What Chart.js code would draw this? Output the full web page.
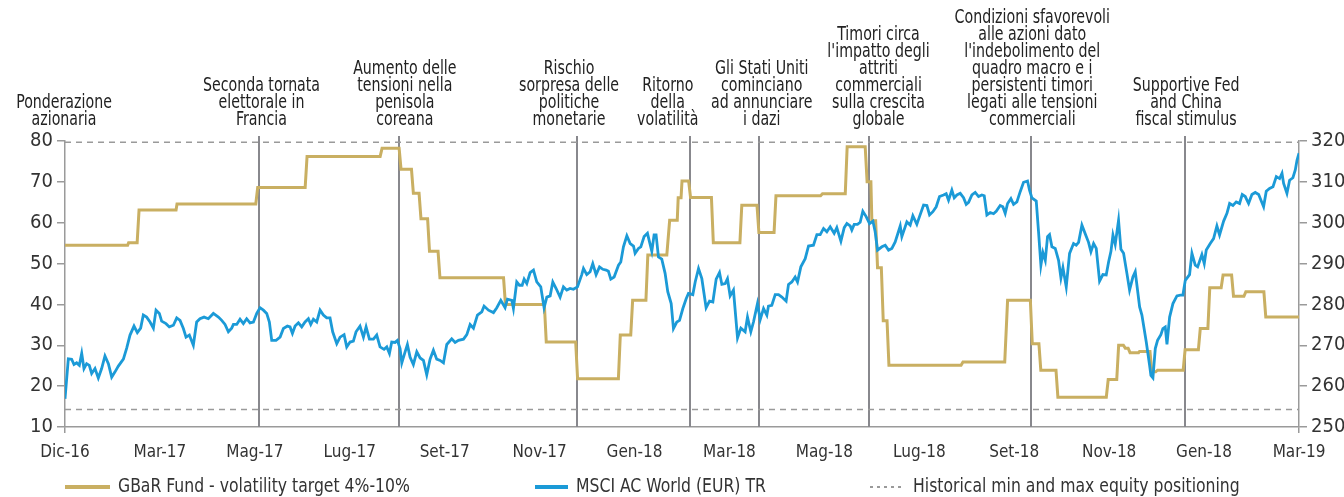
<!DOCTYPE html>
<html>
<head>
<meta charset="utf-8">
<script src="https://cdn.jsdelivr.net/npm/chart.js@4.4.1/dist/chart.umd.min.js"></script>
<style>
  html, body { margin: 0; padding: 0; background: #fff; }
  #wrap { width: 1344px; height: 497px; position: relative; }
</style>
</head>
<body>
<div id="wrap"><canvas id="chart" width="1344" height="497"></canvas></div>
<script>
// x is measured in label steps: 0 = Dic-16 ... 13 = Mar-19
const xLabels = ['Dic-16','Mar-17','Mag-17','Lug-17','Set-17','Nov-17','Gen-18','Mar-18','Mag-18','Lug-18','Set-18','Nov-18','Gen-18','Mar-19'];

// GBaR Fund equity weight (left axis, %)
const fundX = [0,0.66,0.67,0.76,0.78,1.17,1.18,2.01,2.03,2.53,2.55,3.32,3.34,3.52,3.54,3.65,3.67,3.73,3.75,3.82,3.84,3.93,3.95,4.62,4.64,5.05,5.07,5.38,5.40,5.83,5.85,5.96,5.98,6.12,6.14,6.34,6.37,6.45,6.46,6.49,6.50,6.57,6.59,6.81,6.83,7.11,7.13,7.29,7.31,7.47,7.49,7.96,7.98,8.22,8.24,8.43,8.45,8.49,8.50,8.54,8.56,8.60,8.62,8.66,8.68,9.44,9.46,9.90,9.93,10.17,10.19,10.26,10.28,10.44,10.46,10.97,10.99,11.08,11.10,11.15,11.17,11.20,11.22,11.31,11.32,11.43,11.45,11.49,11.51,11.78,11.80,11.94,11.96,12.04,12.06,12.18,12.20,12.29,12.31,12.42,12.44,12.63,12.65,13.0];
const fundY = [54.5,54.5,55.1,55.1,63.1,63.1,64.6,64.6,68.6,68.6,76.2,76.2,78.2,78.2,73.1,73.1,67.2,67.2,61.0,61.0,53.0,53.0,46.5,46.5,40.0,40.0,30.8,30.8,21.8,21.8,32.5,32.5,41.0,41.0,52.1,52.1,60.6,60.6,66.1,66.1,70.2,70.2,66.2,66.2,55.1,55.1,64.3,64.3,57.6,57.6,66.6,66.6,67.1,67.1,78.6,78.6,70.0,70.0,60.5,60.5,49.0,49.0,36.0,36.0,25.1,25.1,25.9,25.9,41.0,41.0,30.4,30.4,23.9,23.9,17.3,17.3,21.6,21.6,30.0,30.0,29.3,29.3,28.2,28.2,28.5,28.5,23.5,23.5,23.9,23.9,28.9,28.9,34.1,34.1,44.1,44.1,47.2,47.2,42.0,42.0,43.1,43.1,36.9,36.9];

// MSCI AC World (EUR) TR (right axis)
const msciX = [0,0.035,0.07,0.095,0.123,0.151,0.176,0.2,0.228,0.256,0.281,0.316,0.351,0.386,0.421,0.457,0.492,0.527,0.562,0.615,0.65,0.685,0.727,0.762,0.797,0.825,0.86,0.896,0.931,0.959,0.994,1.018,1.064,1.099,1.142,1.177,1.212,1.247,1.275,1.31,1.352,1.387,1.422,1.465,1.51,1.563,1.616,1.651,1.686,1.721,1.756,1.774,1.809,1.844,1.879,1.914,1.949,1.985,2.02,2.055,2.09,2.125,2.153,2.178,2.223,2.266,2.301,2.343,2.371,2.396,2.424,2.459,2.494,2.529,2.564,2.589,2.617,2.652,2.687,2.722,2.757,2.792,2.82,2.863,2.898,2.94,2.968,3.003,3.038,3.066,3.108,3.144,3.172,3.207,3.249,3.284,3.319,
  3.361,3.39,3.418,3.442,3.477,3.502,3.53,3.548,3.583,3.607,3.635,3.67,3.706,3.741,3.776,3.811,3.846,3.881,3.916,3.952,3.987,4.022,4.074,4.11,4.145,4.198,4.233,4.268,4.303,4.345,4.391,4.415,4.461,4.514,4.549,4.591,4.636,4.661,4.707,4.724,4.759,4.787,4.816,4.837,4.865,4.9,4.935,4.97,5.012,5.047,5.076,5.111,5.139,5.174,5.216,5.251,5.286,5.321,5.356,5.399,5.444,5.462,5.497,5.532,5.56,5.595,5.631,5.666,5.701,5.725,5.75,5.785,5.831,5.855,5.883,5.919,5.954,5.989,6.006,6.041,6.066,6.101,6.136,6.182,6.206,6.227,6.252,6.287,6.322,6.35,6.386,6.41,6.445,6.474,6.509,6.544,6.568,
  6.614,6.639,6.674,6.709,6.754,6.79,6.825,6.86,6.895,6.92,6.955,6.979,7.007,7.042,7.085,7.12,7.165,7.19,7.225,7.253,7.295,7.324,7.359,7.394,7.411,7.446,7.482,7.517,7.552,7.597,7.622,7.657,7.692,7.717,7.752,7.798,7.833,7.885,7.921,7.956,7.991,8.026,8.061,8.103,8.131,8.174,8.209,8.237,8.272,8.289,8.314,8.349,8.377,8.405,8.44,8.476,8.511,8.535,8.56,8.606,8.641,8.676,8.711,8.746,8.799,8.816,8.869,8.904,8.932,8.974,9.002,9.045,9.08,9.108,9.143,9.178,9.213,9.255,9.283,9.308,9.343,9.368,9.396,9.431,9.466,9.494,9.519,9.554,9.589,9.624,9.659,9.684,9.712,9.747,9.782,9.81,9.852,
  9.88,9.905,9.93,9.965,9.993,10.028,10.063,10.098,10.14,10.161,10.186,10.232,10.256,10.281,10.302,10.327,10.351,10.372,10.397,10.432,10.467,10.492,10.513,10.548,10.583,10.625,10.653,10.678,10.713,10.759,10.783,10.808,10.836,10.864,10.899,10.934,10.969,10.994,11.019,11.04,11.064,11.099,11.124,11.152,11.187,11.215,11.25,11.275,11.321,11.345,11.391,11.426,11.44,11.461,11.486,11.51,11.545,11.566,11.591,11.609,11.637,11.672,11.714,11.749,11.777,11.802,11.847,11.872,11.907,11.932,11.977,12.002,12.023,12.065,12.1,12.135,12.163,12.206,12.241,12.269,12.304,12.339,12.374,12.402,12.434,12.469,12.504,12.539,12.575,12.592,12.627,12.655,12.69,12.726,12.761,12.796,12.821,12.838,12.873,12.901,12.936,12.961,12.979,13.0];
const msciY = [256.9,266.7,266.6,265.3,265.7,265.1,268.0,264.3,265.5,265.1,263.1,264.3,262.0,264.3,267.4,265.5,262.2,263.5,264.9,266.6,269.3,272.5,274.7,273.1,274.2,277.4,276.9,275.7,274.2,278.6,277.8,275.9,275.3,274.5,274.9,276.7,276.1,274.1,272.0,272.5,270.0,275.7,276.5,276.9,276.5,277.8,276.9,276.1,275.1,273.3,274.2,275.1,275.1,276.4,275.3,276.5,275.5,275.7,277.8,279.2,278.6,277.8,275.7,271.2,271.2,272.0,274.1,274.7,274.5,272.9,274.7,275.5,274.5,275.7,276.5,275.1,276.4,275.7,278.6,277.4,276.7,276.7,273.3,270.4,272.0,272.6,269.6,270.8,271.0,273.3,274.7,272.0,274.5,271.5,271.5,272.5,269.6,
  269.0,269.6,268.0,270.8,270.7,271.2,269.2,265.7,268.4,270.2,267.1,265.3,268.4,266.9,266.3,262.8,266.6,268.8,266.6,266.3,265.7,270.2,271.6,270.7,271.2,271.5,272.6,275.1,274.2,277.4,278.2,279.6,278.6,278.0,279.2,281.0,279.2,281.3,281.0,279.0,285.5,284.7,284.7,286.2,285.1,287.8,288.4,285.5,284.3,279.2,281.8,282.1,285.5,283.9,281.8,284.3,283.5,283.9,283.7,284.3,287.3,288.8,287.3,288.0,290.0,287.3,289.2,288.6,288.4,288.1,286.2,286.7,289.6,290.4,294.1,296.8,294.9,294.3,292.5,293.7,294.1,296.6,297.4,293.0,297.0,297.0,291.6,291.1,287.6,283.1,280.2,274.1,275.7,276.1,279.0,281.4,282.7,
  282.4,285.5,288.8,286.3,279.2,280.8,280.6,286.2,287.8,284.9,285.1,286.3,282.1,283.5,271.8,274.2,273.3,276.9,273.3,275.7,280.2,276.3,279.0,277.4,279.6,279.8,282.4,282.4,281.8,280.8,284.9,285.5,286.7,285.5,289.2,291.2,294.3,294.5,297.1,297.1,298.6,297.8,299.0,297.4,298.8,295.5,298.8,299.8,299.2,298.2,299.6,299.6,300.1,302.8,301.5,299.8,300.4,297.8,293.3,294.1,294.5,293.3,293.7,295.3,299.2,296.6,300.2,299.4,301.7,299.6,301.5,304.3,304.2,301.9,302.7,303.9,306.4,306.8,307.1,305.5,308.0,306.1,306.8,307.2,306.1,304.5,305.0,306.8,307.4,306.4,306.8,306.6,301.9,302.5,302.2,302.8,304.2,
  303.9,302.3,304.7,305.9,304.5,305.1,307.6,309.9,310.2,308.0,306.1,305.3,297.8,289.6,292.7,290.8,296.6,297.1,294.1,293.7,290.8,286.5,289.0,284.3,292.5,294.9,294.5,295.2,299.4,296.6,295.2,292.9,294.9,293.7,285.7,287.3,287.2,290.4,293.0,297.0,294.7,300.6,293.5,292.5,287.6,283.5,286.7,288.0,279.4,277.4,270.8,265.1,262.6,262.0,269.2,271.2,272.6,274.1,274.5,270.2,276.9,280.2,282.1,282.3,282.3,285.9,287.3,292.5,289.6,289.2,292.2,290.0,293.3,294.9,296.1,299.2,297.0,300.4,302.3,304.7,304.2,305.1,304.7,306.9,306.4,304.7,306.9,307.4,306.9,305.9,303.9,307.7,308.4,308.8,311.3,310.8,312.1,309.6,307.2,310.4,311.0,312.9,315.3,317.0];

// historical min and max equity positioning (left axis)
const equityMax = 79.7;
const equityMin = 14.3;

// event markers and their captions
const eventX = [2.04, 3.52, 5.39, 6.58, 7.31, 8.47, 10.18, 11.80];
const captionX = [2.07, 3.58, 5.31, 6.35, 7.34, 8.57, 10.19, 11.81];
const captions = [
  ['Seconda tornata', 'elettorale in', 'Francia'],
  ['Aumento delle', 'tensioni nella', 'penisola', 'coreana'],
  ['Rischio', 'sorpresa delle', 'politiche', 'monetarie'],
  ['Ritorno', 'della', 'volatilità'],
  ['Gli Stati Uniti', 'cominciano', 'ad annunciare', 'i dazi'],
  ['Timori circa', "l'impatto degli", 'attriti', 'commerciali', 'sulla crescita', 'globale'],
  ['Condizioni sfavorevoli', 'alle azioni dato', "l'indebolimento del", 'quadro macro e i', 'persistenti timori', 'legati alle tensioni', 'commerciali'],
  ['Supportive Fed', 'and China', 'fiscal stimulus']
];
const yTitle = ['Ponderazione', 'azionaria'];
const legendLabels = ['GBaR Fund - volatility target 4%-10%', 'MSCI AC World (EUR) TR', 'Historical min and max equity positioning'];

const GOLD = '#c9af62';
const BLUE = '#1b9ad7';
const GREY = '#9a9a9a';
const TEXT = '#333';
const FONT = "'DejaVu Sans Condensed', 'Liberation Sans Narrow', sans-serif";

Chart.defaults.font.family = FONT;
Chart.defaults.color = TEXT;

const xMin = 0, xMax = xLabels.length - 1;

// the original uses a narrow typeface, so squeeze the free text a little
function squeezed(ctx, text, x, y, sx) {
  ctx.save();
  ctx.translate(x, y);
  ctx.scale(sx, 1);
  ctx.fillText(text, 0, 0);
  ctx.restore();
}

// ===== EVENTS, CAPTIONS, LEGEND =====
const extras = {
  id: 'extras',
  beforeDatasetsDraw(chart) {
    const { ctx, chartArea, scales: { x } } = chart;
    ctx.save();
    ctx.strokeStyle = '#88888d';
    ctx.lineWidth = 2;
    eventX.forEach(v => {
      const px = Math.round(x.getPixelForValue(v));
      ctx.beginPath();
      ctx.moveTo(px, chartArea.top - 5);
      ctx.lineTo(px, chartArea.bottom);
      ctx.stroke();
    });
    ctx.restore();
  },
  afterDraw(chart) {
    const { ctx, chartArea, scales: { x } } = chart;
    const lineH = 17;
    const lastY = chartArea.top - 21;
    ctx.save();
    ctx.fillStyle = '#222';
    ctx.font = '19px ' + FONT;
    ctx.textAlign = 'center';
    ctx.textBaseline = 'middle';
    captions.forEach((lines, i) => {
      const cx = x.getPixelForValue(captionX[i]);
      lines.forEach((t, j) => {
        squeezed(ctx, t, cx, lastY - (lines.length - 1 - j) * lineH, 0.83);
      });
    });
    yTitle.forEach((t, j) => {
      squeezed(ctx, t, chartArea.left - 1, lastY - (yTitle.length - 1 - j) * lineH, 0.83);
    });

    // legend
    const ly = 487;
    const items = [
      { x: 65, w: 45, color: GOLD, dash: [], lw: 4 },
      { x: 535, w: 33, color: BLUE, dash: [], lw: 4 },
      { x: 870, w: 35, color: GREY, dash: [3, 4], lw: 2 }
    ];
    ctx.textAlign = 'left';
    ctx.font = '20px ' + FONT;
    ctx.fillStyle = TEXT;
    items.forEach((it, i) => {
      ctx.beginPath();
      ctx.setLineDash(it.dash);
      ctx.strokeStyle = it.color;
      ctx.lineWidth = it.lw;
      ctx.moveTo(it.x, ly);
      ctx.lineTo(it.x + it.w, ly);
      ctx.stroke();
      ctx.setLineDash([]);
      squeezed(ctx, legendLabels[i], it.x + it.w + 8, ly, 0.87);
    });
    ctx.restore();
  }
};

const refLine = (v) => ({
  data: [{ x: xMin, y: v }, { x: xMax, y: v }],
  yAxisID: 'y',
  borderColor: GREY,
  borderWidth: 1.4,
  borderDash: [6, 5],
  pointRadius: 0,
  order: 2
});

new Chart(document.getElementById('chart'), {
  type: 'line',
  data: {
    datasets: [
      {
        label: legendLabels[0],
        data: fundX.map((v, i) => ({ x: v, y: fundY[i] })),
        yAxisID: 'y',
        borderColor: GOLD,
        borderWidth: 3,
        pointRadius: 0,
        tension: 0,
        order: 1
      },
      {
        label: legendLabels[1],
        data: msciX.map((v, i) => ({ x: v, y: msciY[i] })),
        yAxisID: 'y2',
        borderColor: BLUE,
        borderWidth: 2.8,
        pointRadius: 0,
        tension: 0,
        order: 0
      },
      refLine(equityMax),
      refLine(equityMin)
    ]
  },
  options: {
    responsive: false,
    animation: false,
    devicePixelRatio: 1,
    events: [],
    layout: { padding: { top: 141, left: 0, right: 0, bottom: 0 } },
    plugins: { legend: { display: false }, tooltip: { enabled: false } },
    scales: {
      x: {
        type: 'linear',
        min: xMin,
        max: xMax,
        afterBuildTicks: s => { s.ticks = xLabels.map((_, i) => ({ value: i })); },
        afterFit: s => { s.height = 70; },
        ticks: {
          callback: v => xLabels[v],
          font: { size: 17 },
          color: TEXT,
          padding: 9,
          maxRotation: 0,
          autoSkip: false
        },
        grid: {
          drawOnChartArea: false,
          tickLength: 6,
          lineWidth: 1.5,
          color: c => (c.index === 0 || c.index === xMax) ? GREY : 'rgba(0,0,0,0)'
        },
        border: { color: GREY, width: 1.5 }
      },
      y: {
        position: 'left',
        min: 10,
        max: 80,
        afterFit: s => { s.width = 65; },
        ticks: { stepSize: 10, font: { size: 20 }, color: TEXT, padding: 4 },
        grid: { drawOnChartArea: false, tickLength: 8, color: GREY, lineWidth: 1.5 },
        border: { color: GREY, width: 1.5 }
      },
      y2: {
        position: 'right',
        min: 250,
        max: 320,
        afterFit: s => { s.width = 45; },
        ticks: { stepSize: 10, font: { size: 20 }, color: TEXT, padding: 4 },
        grid: { drawOnChartArea: false, tickLength: 8, color: GREY, lineWidth: 1.5 },
        border: { color: GREY, width: 1.5 }
      }
    }
  },
  plugins: [extras]
});
</script>
</body>
</html>
